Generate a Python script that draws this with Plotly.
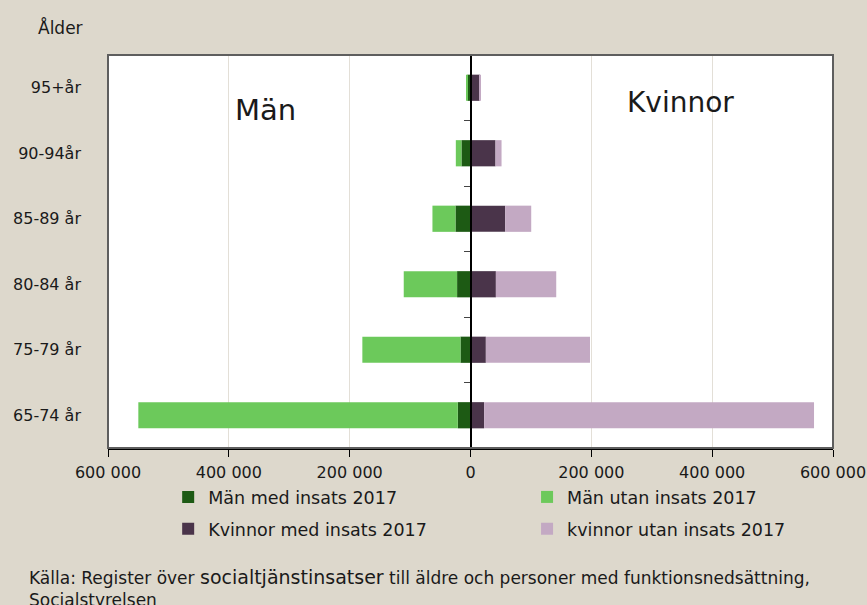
import plotly.graph_objects as go

categories = ["65-74 år", "75-79 år", "80-84 år", "85-89 år", "90-94år", "95+år"]
man_med = [21000, 16600, 22200, 24900, 15000, 5000]
man_utan = [528800, 162400, 88300, 38100, 9300, 1000]
kvinnor_med = [22600, 25400, 42000, 57400, 41400, 15400]
kvinnor_utan = [546000, 172400, 99900, 43100, 10000, 1000]

tick_vals = [-600000, -400000, -200000, 0, 200000, 400000, 600000]
tick_text = ["600 000", "400 000", "200 000", "0", "200 000", "400 000", "600 000"]

BG = "#ddd8cc"
FONT = "'DejaVu Sans', sans-serif"

fig = go.Figure()
fig.add_trace(go.Bar(y=categories, x=[-v for v in man_med], orientation="h", legend="legend",
                     name="Män med insats 2017", marker=dict(color="#1d5a14", line=dict(width=0))))
fig.add_trace(go.Bar(y=categories, x=[-v for v in man_utan], orientation="h", legend="legend2",
                     name="Män utan insats 2017", marker=dict(color="#6cc95b", line=dict(width=0))))
fig.add_trace(go.Bar(y=categories, x=kvinnor_med, orientation="h", legend="legend3",
                     name="Kvinnor med insats 2017", marker=dict(color="#4a344a", line=dict(width=0))))
fig.add_trace(go.Bar(y=categories, x=kvinnor_utan, orientation="h", legend="legend4",
                     name="kvinnor utan insats 2017", marker=dict(color="#c3a9c3", line=dict(width=0))))
# invisible trace to carry the centre axis with boundary ticks
fig.add_trace(go.Scatter(y=categories, x=[0] * len(categories), yaxis="y2", mode="markers",
                         marker=dict(opacity=0), showlegend=False, hoverinfo="skip"))

leg_common = dict(orientation="h", xanchor="left", yanchor="top",
                  bgcolor="rgba(0,0,0,0)", font=dict(size=17.5),
                  itemclick=False, itemdoubleclick=False)

fig.update_layout(
    width=867, height=605,
    paper_bgcolor=BG, plot_bgcolor="white",
    barmode="relative", bargap=0.6,
    margin=dict(l=108, r=34, t=55, b=157, autoexpand=False),
    font=dict(family=FONT, size=16, color="#1a1a1a"),
    xaxis=dict(range=[-600000, 600000], tickvals=tick_vals, ticktext=tick_text,
               showgrid=True, gridcolor="#e3dfd7", gridwidth=1,
               zeroline=False, showline=True, linecolor="black", linewidth=1.5,
               ticks="outside", ticklen=7, tickcolor="black", automargin=False,
               tickfont=dict(size=16), ticklabelstandoff=2),
    yaxis=dict(categoryorder="array", categoryarray=categories, range=[-0.5, 5.5],
               showgrid=False, zeroline=False, showline=False, ticks="", automargin=False,
               tickfont=dict(size=16), ticklabelstandoff=26),
    yaxis2=dict(overlaying="y", anchor="free", position=0.5, side="left",
                categoryorder="array", categoryarray=categories, range=[-0.5, 5.5],
                tickson="boundaries", ticks="outside", ticklen=6, tickcolor="#444",
                showticklabels=False, showline=True, linecolor="black", linewidth=1.5,
                showgrid=False, zeroline=False, automargin=False),
    legend=dict(x=0.083, y=-0.079, **leg_common),
    legend2=dict(x=0.578, y=-0.079, **leg_common),
    legend3=dict(x=0.083, y=-0.160, **leg_common),
    legend4=dict(x=0.578, y=-0.160, **leg_common),
    showlegend=True,
)

fig.add_shape(type="rect", xref="paper", yref="paper", x0=0, x1=1, y0=0, y1=1,
              line=dict(color="#5e5e5e", width=2), layer="above")

fig.add_annotation(text="Ålder", xref="paper", yref="paper", x=-0.032, y=1.071,
                   xanchor="right", yanchor="middle", showarrow=False, font=dict(size=17))
fig.add_annotation(text="Män", xref="paper", yref="paper", x=0.2166, y=0.86,
                   xanchor="center", yanchor="middle", showarrow=False, font=dict(size=29))
fig.add_annotation(text="Kvinnor", xref="paper", yref="paper", x=0.7897, y=0.878,
                   xanchor="center", yanchor="middle", showarrow=False, font=dict(size=28))
fig.add_annotation(
    text="Källa: Register över <span style='font-size:19px'>socialtjänstinsatser</span> till äldre och personer med funktionsnedsättning,<br>Socialstyrelsen",
    xref="paper", yref="paper", x=-0.1117, y=-0.295, xanchor="left", yanchor="top",
    align="left", showarrow=False, font=dict(size=17))

fig.write_html("out.html", config={"displayModeBar": False},
               post_script="document.body.style.margin='0';")
